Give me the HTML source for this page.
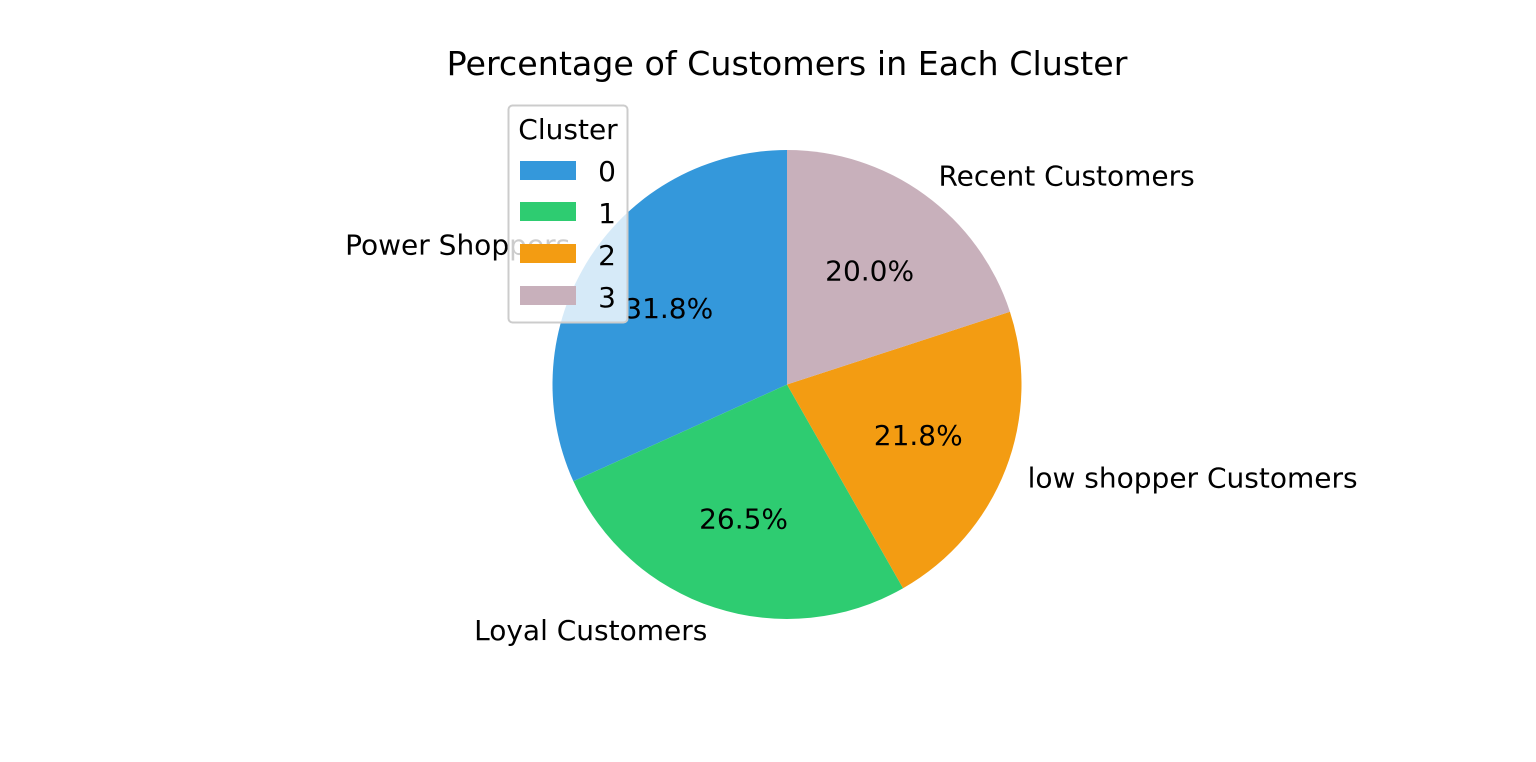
<!DOCTYPE html>
<html><head><meta charset="utf-8">
<style>
html,body{margin:0;padding:0;background:#fff;}
svg{display:block;font-family:"DejaVu Sans","Liberation Sans",sans-serif;}
</style></head>
<body>
<svg id="chart" width="1536" height="762" viewBox="0 0 1536 762" xmlns="http://www.w3.org/2000/svg">
<text x="787" y="75" font-size="33.3" text-anchor="middle" fill="#000">Percentage of Customers in Each Cluster</text>
<g id="slices"></g>
<g id="labels"></g>
<g>
<rect x="508.5" y="105.5" width="119" height="217" rx="4" fill="#fff" fill-opacity="0.8" stroke="#ccc" stroke-width="2"/>
<text x="568" y="139" font-size="28" text-anchor="middle">Cluster</text>
<rect x="520" y="161" width="56" height="19" fill="#3498db"/>
<text x="616" y="181" font-size="28" text-anchor="end">0</text>
<rect x="520" y="202" width="56" height="19" fill="#2ecc71"/>
<text x="616" y="223" font-size="28" text-anchor="end">1</text>
<rect x="520" y="244" width="56" height="19" fill="#f39c12"/>
<text x="616" y="265" font-size="28" text-anchor="end">2</text>
<rect x="520" y="286" width="56" height="19" fill="#c8b0bb"/>
<text x="616" y="307" font-size="28" text-anchor="end">3</text>
</g>
</svg>
<script>
const categories = ["Power Shoppers", "Loyal Customers", "low shopper Customers", "Recent Customers"];
const values = [31.8, 26.5, 21.8, 20.0];
const colors = ["#3498db", "#2ecc71", "#f39c12", "#c8b0bb"];

const NS = "http://www.w3.org/2000/svg";
const cx = 787, cy = 384.5, r = 234.5;
const total = values.reduce((a, b) => a + b, 0);
function pt(angDeg, rad) {
  const a = angDeg * Math.PI / 180;
  return [cx + rad * Math.cos(a), cy - rad * Math.sin(a)];
}
const gS = document.getElementById("slices");
const gL = document.getElementById("labels");
let start = 90;
values.forEach((v, i) => {
  const sweep = v / total * 360;
  const end = start + sweep;
  const p0 = pt(start, r), p1 = pt(end, r);
  const path = document.createElementNS(NS, "path");
  path.setAttribute("d", `M${cx},${cy} L${p0[0]},${p0[1]} A${r},${r} 0 ${sweep > 180 ? 1 : 0} 0 ${p1[0]},${p1[1]} Z`);
  path.setAttribute("fill", colors[i]);
  
  
  gS.appendChild(path);
  const mid = (start + end) / 2;
  const lp = pt(mid, r * 1.1);
  const lt = document.createElementNS(NS, "text");
  lt.setAttribute("x", lp[0]);
  lt.setAttribute("y", lp[1] + 10);
  lt.setAttribute("font-size", "28");
  lt.setAttribute("text-anchor", lp[0] >= cx ? "start" : "end");
  lt.textContent = categories[i];
  
  
  gS.appendChild(lt);
  const pp = pt(mid, r * 0.6);
  const pt2 = document.createElementNS(NS, "text");
  pt2.setAttribute("x", pp[0]);
  pt2.setAttribute("y", pp[1] + 10);
  pt2.setAttribute("font-size", "28");
  pt2.setAttribute("text-anchor", "middle");
  pt2.textContent = (v / total * 100).toFixed(1) + "%";
  
  
  gL.appendChild(pt2);
  start = end;
});
</script>
</body></html>
